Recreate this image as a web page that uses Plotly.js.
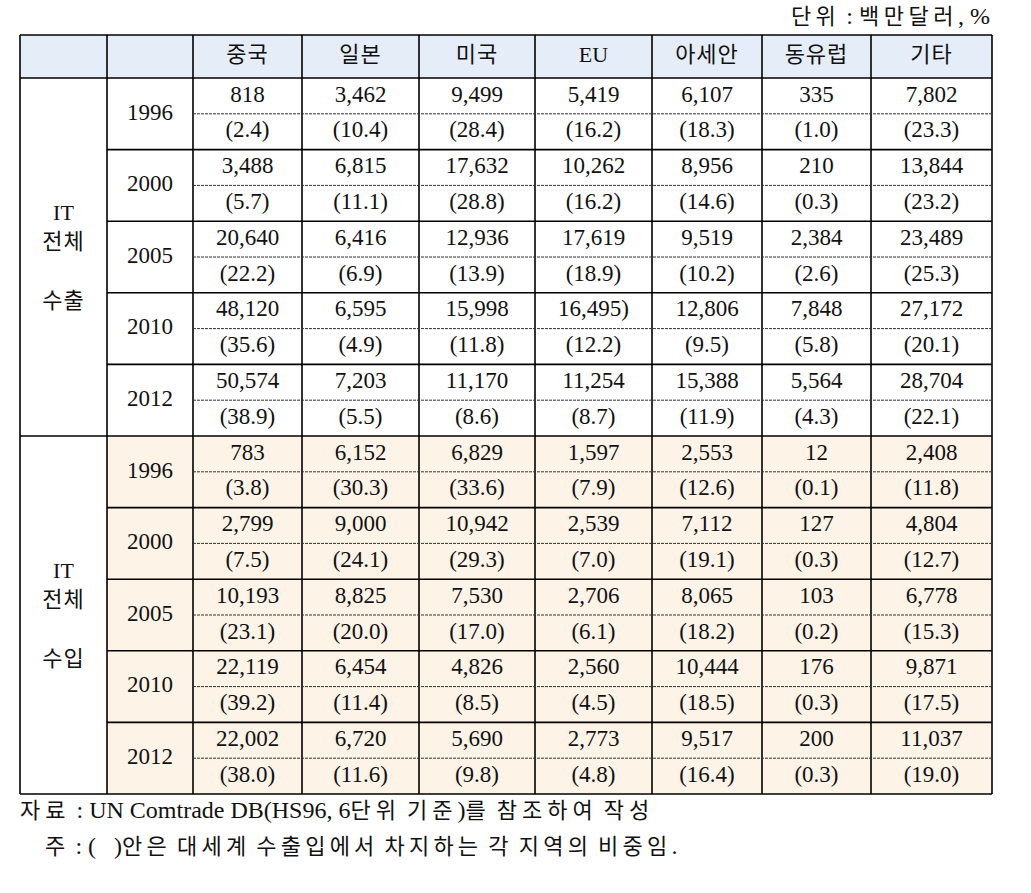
<!DOCTYPE html>
<html>
<head>
<meta charset="utf-8">
<script src="https://cdn.plot.ly/plotly-3.0.1.min.js"></script>
<style>
  body { margin: 0; background: #fff; }
  #myDiv { width: 1031px; height: 893px; }
</style>
</head>
<body>
<div id="myDiv"></div>
<script>
// column headers and row groups
var regions = ['중국', '일본', '미국', 'EU', '아세안', '동유럽', '기타'];
var years = ['1996', '2000', '2005', '2010', '2012'];
var groups = [['IT', '전체', '수출'], ['IT', '전체', '수입']];

// IT 전체 수출 (백만달러) and share (%)
var exportValues = [
  [818, 3462, 9499, 5419, 6107, 335, 7802],
  [3488, 6815, 17632, 10262, 8956, 210, 13844],
  [20640, 6416, 12936, 17619, 9519, 2384, 23489],
  [48120, 6595, 15998, 16495, 12806, 7848, 27172],
  [50574, 7203, 11170, 11254, 15388, 5564, 28704]
];
var exportShares = [
  [2.4, 10.4, 28.4, 16.2, 18.3, 1.0, 23.3],
  [5.7, 11.1, 28.8, 16.2, 14.6, 0.3, 23.2],
  [22.2, 6.9, 13.9, 18.9, 10.2, 2.6, 25.3],
  [35.6, 4.9, 11.8, 12.2, 9.5, 5.8, 20.1],
  [38.9, 5.5, 8.6, 8.7, 11.9, 4.3, 22.1]
];

// IT 전체 수입
var importValues = [
  [783, 6152, 6829, 1597, 2553, 12, 2408],
  [2799, 9000, 10942, 2539, 7112, 127, 4804],
  [10193, 8825, 7530, 2706, 8065, 103, 6778],
  [22119, 6454, 4826, 2560, 10444, 176, 9871],
  [22002, 6720, 5690, 2773, 9517, 200, 11037]
];
var importShares = [
  [3.8, 30.3, 33.6, 7.9, 12.6, 0.1, 11.8],
  [7.5, 24.1, 29.3, 7.0, 19.1, 0.3, 12.7],
  [23.1, 20.0, 17.0, 6.1, 18.2, 0.2, 15.3],
  [39.2, 11.4, 8.5, 4.5, 18.5, 0.3, 17.5],
  [38.0, 11.6, 9.8, 4.8, 16.4, 0.3, 19.0]
];
// the source prints a stray ")" after one export value (2010, EU)
var valueSuffix = {'0-3-3': ')'};

var unitText = '단위 : 백만달러, %';
var sourceNote = '자료 : UN Comtrade DB(HS96, 6단위 기준)를 참조하여 작성';
var shareNote = '주 : (   )안은 대세계 수출입에서 차지하는 각 지역의 비중임.';

// grid geometry (axis units = pixels of the page)
var colEdges = [20, 107, 193, 302, 419, 535, 652, 762, 871, 992];
var tableTop = 35, headTop = 78, rowH = 35.8;
var FONT = '"Liberation Serif", "Noto Sans CJK KR", serif';

function rowY(r) { return headTop + rowH * (r + 0.5); }
function rowEdge(r) { return headTop + rowH * r; }
function colMid(c) { return (colEdges[c] + colEdges[c + 1]) / 2; }
function fmt(v) { return v.toLocaleString('en-US'); }
// the source document spaces out Hangul but not Latin text
function spaced(s, px, size) {
  var st = 'letter-spacing:' + px + 'px' + (size ? ';font-size:' + size + 'px' : '');
  return s.replace(/ /g, '\u00A0').replace(/([가-힣]+)/g, '<span style="' + st + '">$1</span>');
}

var cellX = [], cellY = [], cellT = [];
var headX = [], headY = [], headT = [];
var yearX = [], yearY = [], yearT = [];
var grpX = [], grpY = [], grpT = [];

regions.forEach(function (name, j) {
  headX.push(colMid(j + 2)); headY.push((tableTop + headTop) / 2); headT.push(spaced(name, 1));
});

[[exportValues, exportShares], [importValues, importShares]].forEach(function (sec, s) {
  var vals = sec[0], shares = sec[1];
  years.forEach(function (yr, i) {
    var r = s * 10 + i * 2;
    yearX.push(colMid(1)); yearY.push(rowEdge(r + 1)); yearT.push(yr);
    regions.forEach(function (name, j) {
      cellX.push(colMid(j + 2)); cellY.push(rowY(r));
      cellT.push(fmt(vals[i][j]) + (valueSuffix[s + '-' + i + '-' + j] || ''));
      cellX.push(colMid(j + 2)); cellY.push(rowY(r + 1));
      cellT.push('(' + shares[i][j].toFixed(1) + ')');
    });
  });
  var mid = rowEdge(s * 10 + 5);
  [-43, -14, 45].forEach(function (off, k) {
    grpX.push(colMid(0)); grpY.push(mid + off); grpT.push(spaced(groups[s][k], 1));
  });
});

var textTrace = function (x, y, t, size) {
  return {
    x: x, y: y, text: t, type: 'scatter', mode: 'text',
    textposition: 'middle center', hoverinfo: 'skip', showlegend: false,
    textfont: {family: FONT, size: size, color: '#111'}
  };
};

var data = [
  textTrace(cellX, cellY, cellT, 23),
  textTrace(headX, headY, headT, 22),
  textTrace(yearX, yearY, yearT, 23),
  textTrace(grpX, grpY, grpT, 22),
  {
    x: [colEdges[9] - 2, colEdges[0], colEdges[0] + 25],
    y: [18, rowEdge(20) + 18, rowEdge(20) + 54],
    text: [spaced(unitText, 4.5, 22), spaced(sourceNote, 5, 22), spaced(shareNote, 4.2, 22)],
    textposition: ['middle left', 'middle right', 'middle right'],
    type: 'scatter', mode: 'text', hoverinfo: 'skip', showlegend: false,
    textfont: {family: FONT, size: 24, color: '#111'}
  }
];

var shapes = [];
var black = {color: '#000', width: 1.6};
function line(x0, y0, x1, y1, l) {
  shapes.push({type: 'line', xref: 'x', yref: 'y', x0: x0, y0: y0, x1: x1, y1: y1, line: l, layer: 'above'});
}
// fills
shapes.push({type: 'rect', xref: 'x', yref: 'y', x0: colEdges[0], x1: colEdges[9], y0: tableTop, y1: headTop,
  fillcolor: '#E5EDF8', line: {width: 0}, layer: 'below'});
shapes.push({type: 'rect', xref: 'x', yref: 'y', x0: colEdges[1], x1: colEdges[9], y0: rowEdge(10), y1: rowEdge(20),
  fillcolor: '#FDF3E7', line: {width: 0}, layer: 'below'});
// vertical lines
colEdges.forEach(function (x) { line(x, tableTop, x, rowEdge(20), black); });
// horizontal lines
line(colEdges[0], tableTop, colEdges[9], tableTop, black);
line(colEdges[0], headTop, colEdges[9], headTop, black);
line(colEdges[0], rowEdge(10), colEdges[9], rowEdge(10), black);
line(colEdges[0], rowEdge(20), colEdges[9], rowEdge(20), black);
for (var r = 0; r < 20; r += 2) {
  if (r % 10 !== 0) line(colEdges[1], rowEdge(r), colEdges[9], rowEdge(r), black);
  line(colEdges[2], rowEdge(r + 1), colEdges[9], rowEdge(r + 1), {color: '#333', width: 1, dash: '3px,1px'});
}

var layout = {
  width: 1031, height: 893,
  margin: {l: 0, r: 0, t: 0, b: 0},
  paper_bgcolor: '#fff', plot_bgcolor: '#fff',
  xaxis: {range: [0, 1031], visible: false, fixedrange: true},
  yaxis: {range: [893, 0], visible: false, fixedrange: true},
  shapes: shapes,
  showlegend: false
};

Plotly.newPlot('myDiv', data, layout, {displayModeBar: false, staticPlot: true});
</script>
</body>
</html>
